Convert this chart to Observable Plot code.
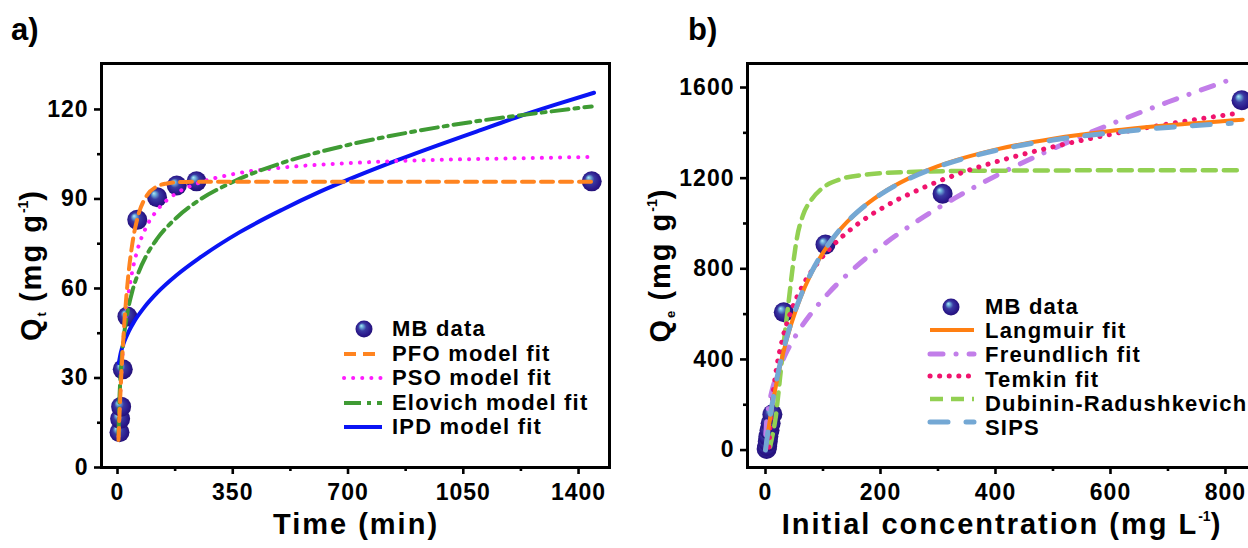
<!DOCTYPE html>
<html><head><meta charset="utf-8">
<script src="https://cdn.jsdelivr.net/npm/d3@7"></script>
<script src="https://cdn.jsdelivr.net/npm/@observablehq/plot@0.6"></script>
<style>
html,body{margin:0;padding:0;background:#fff;}
body{width:1248px;height:548px;overflow:hidden;position:relative;font-family:"Liberation Sans",Arial,sans-serif;font-weight:bold;color:#000;}
.box{position:absolute;top:0;height:548px;}
.panel{position:absolute;font-size:31px;line-height:31px;}
.xt{position:absolute;font-size:29px;line-height:29px;letter-spacing:2px;white-space:nowrap;transform:translateX(-50%);}
.yt{position:absolute;font-size:29px;line-height:29px;letter-spacing:2px;white-space:nowrap;transform:translate(-50%,-50%) rotate(-90deg);}
.xt sub,.yt sub{font-size:13px;position:relative;top:5px;vertical-align:baseline;letter-spacing:0;line-height:0;}
.xt sup,.yt sup{font-size:14px;position:relative;top:-13px;vertical-align:baseline;letter-spacing:0;line-height:0;}
.lt{position:absolute;font-size:22px;line-height:22px;letter-spacing:1.2px;white-space:nowrap;}
.ls{position:absolute;left:0;top:0;overflow:visible;}
</style></head><body>
<svg width="0" height="0" style="position:absolute">
  <defs>
    <radialGradient id="sphere" cx="0.5" cy="0.5" r="0.55" fx="0.33" fy="0.3">
      <stop offset="0" stop-color="#b5e6f7"/>
      <stop offset="0.16" stop-color="#6fb2dc"/>
      <stop offset="0.42" stop-color="#3a3aa2"/>
      <stop offset="0.78" stop-color="#2a188a"/>
      <stop offset="1" stop-color="#210f70"/>
    </radialGradient>
  </defs>
</svg>
<div id="pa" class="box" style="left:0;width:620px"></div>
<div id="pb" class="box" style="left:620px;width:640px"></div>
<div class="panel" style="left:11px;top:14px">a)</div>
<div class="panel" style="left:688px;top:14px">b)</div>
<div class="xt" style="left:356px;top:510px">Time (min)</div>
<div class="xt" style="left:1002px;top:510px">Initial concentration (mg L<sup>-1</sup>)</div>
<div class="yt" style="left:31px;top:265px">Q<sub>t</sub> (mg g<sup>-1</sup>)</div>
<div class="yt" style="left:660px;top:265px">Q<sub>e</sub> (mg g<sup>-1</sup>)</div>
<svg id="legsvg" class="ls" width="1248" height="548"></svg>
<script>
// ---------- Panel a: kinetics ----------
const timeMB = [6, 8, 11, 16, 30, 60, 120, 180, 240, 1440];
const qtMB   = [11.8, 16.3, 20.4, 32.9, 50.6, 83.0, 90.6, 94.5, 95.9, 95.9];

const pfoT = [3, 5, 8, 10, 15, 20, 30, 45, 60, 90, 120, 150, 180, 240, 400, 700, 1000, 1440];
const pfoQ = [9.2, 15.0, 22.8, 27.6, 38.2, 47.2, 61.2, 75.0, 83.3, 91.3, 94.2, 95.2, 95.6, 95.8, 95.8, 95.8, 95.8, 95.8];

const psoT = [3, 5, 8, 10, 15, 20, 30, 45, 60, 90, 120, 180, 240, 350, 500, 700, 900, 1100, 1300, 1440];
const psoQ = [10.4, 16.3, 23.9, 28.3, 37.4, 44.6, 55.3, 65.8, 72.7, 81.2, 86.2, 92.0, 95.1, 98.3, 100.5, 102.0, 102.9, 103.4, 103.8, 104.1];

const eloT = [3, 5, 10, 15, 20, 30, 45, 60, 90, 120, 180, 240, 350, 500, 700, 900, 1100, 1300, 1440];
const eloQ = [10.7, 19.8, 32.2, 39.5, 44.6, 51.8, 59.1, 64.2, 71.5, 76.6, 83.8, 89.0, 95.7, 102.1, 108.1, 112.6, 116.2, 119.1, 121.0];

const ipdT = [4, 10, 20, 35, 50, 80, 120, 180, 250, 370, 500, 610, 730, 850, 970, 1090, 1210, 1330, 1447];
const ipdQ = [35, 38.5, 42, 45.8, 48.8, 53.5, 58.5, 64.5, 70.3, 78.8, 86.4, 92.2, 97.8, 103.0, 107.9, 112.6, 117.3, 121.6, 125.6];

const xTicksA = [0, 350, 700, 1050, 1400];
const xMinorA = [175, 525, 875, 1225];
const yTicksA = [0, 30, 60, 90, 120];
const yMinorA = [15, 45, 75, 105];

// ---------- Panel b: isotherms ----------
const concMB = [2, 3, 4, 5, 7, 9, 12, 31.8, 104.3, 308, 828];
const qeMB   = [5, 18, 38, 60, 88, 118, 158, 608, 907, 1131, 1544];

const langC = [0, 5, 10, 20, 30, 45, 60, 80, 105, 130, 160, 200, 250, 300, 400, 500, 600, 700, 830];
const langQ = [0, 90, 170, 308, 421, 558, 667, 782, 890, 974, 1051, 1129, 1200, 1253, 1326, 1374, 1408, 1433, 1458];

const freuC = [0.5, 2, 5, 10, 20, 35, 55, 80, 110, 150, 200, 260, 330, 410, 500, 600, 700, 810];
const freuQ = [68, 124, 184, 248, 334, 424, 515, 605, 694, 793, 897, 1004, 1113, 1222, 1330, 1438, 1536, 1636];

const temC = [6, 8, 10, 14, 20, 30, 45, 65, 90, 120, 160, 210, 270, 340, 420, 500, 600, 700, 820];
const temQ = [13, 99, 166, 267, 373, 495, 616, 727, 824, 910, 997, 1078, 1153, 1223, 1286, 1338, 1393, 1439, 1486];

const drC = [8, 11, 14, 18, 22, 27, 33, 40, 47, 55, 65, 80, 100, 130, 180, 250, 350, 500, 650, 830];
const drQ = [15, 50, 88, 150, 240, 360, 500, 650, 800, 940, 1035, 1105, 1158, 1195, 1217, 1227, 1232, 1234, 1235, 1235];

const sipsC = [0, 5, 10, 20, 30, 45, 60, 80, 105, 130, 160, 200, 250, 300, 400, 500, 600, 700, 810];
const sipsQ = [0, 95, 178, 318, 430, 565, 672, 785, 892, 975, 1051, 1128, 1198, 1250, 1322, 1368, 1400, 1424, 1442];

const xTicksB = [0, 200, 400, 600, 800];
const xMinorB = [100, 300, 500, 700];
const yTicksB = [0, 400, 800, 1200, 1600];
const yMinorB = [200, 600, 1000, 1400];

// ---------- styles ----------
const sA = {
  "MB data": {dot: true},
  "PFO model fit": {stroke: "#ff8420", strokeWidth: 4, strokeDasharray: "12,7"},
  "PSO model fit": {stroke: "#ff1cff", strokeWidth: 4, strokeDasharray: "0.1,9", strokeLinecap: "round"},
  "Elovich model fit": {stroke: "#3f9b34", strokeWidth: 4, strokeDasharray: "17,6,4,6"},
  "IPD model fit": {stroke: "#0a14f4", strokeWidth: 4}
};
const sB = {
  "MB data": {dot: true},
  "Langmuir fit": {stroke: "#ff7f12", strokeWidth: 4},
  "Freundlich fit": {stroke: "#c27ee9", strokeWidth: 5, strokeDasharray: "13,13,0.1,13", strokeLinecap: "round"},
  "Temkin fit": {stroke: "#f0136d", strokeWidth: 5, strokeDasharray: "0.1,9.5", strokeLinecap: "round"},
  "Dubinin-Radushkevich": {stroke: "#92d052", strokeWidth: 4.5, strokeDasharray: "13,8"},
  "SIPS": {stroke: "#74a8d4", strokeWidth: 5, strokeDasharray: "18,18", strokeLinecap: "round"}
};

const zipRows = (xs, ys) => xs.map((x, i) => ({x, y: ys[i]}));
const baseStyle = {fontFamily: "'Liberation Sans', Arial, sans-serif", fontSize: "23px", fontWeight: "bold", letterSpacing: "1px", color: "#000", background: "none", maxWidth: "none", overflow: "visible"};
const ln = (xs, ys, st) => Plot.line(zipRows(xs, ys), {x: "x", y: "y", curve: "monotone-x", ...st});

function axes(xt, xm, yt, ym) {
  return [
    Plot.axisX({ticks: xt, tickSize: 7, tickPadding: 9, strokeWidth: 2.6, label: null, tickFormat: d => String(d)}),
    Plot.axisX({ticks: xm, tickSize: 4, strokeWidth: 2.6, label: null, tickFormat: () => ""}),
    Plot.axisY({ticks: yt, tickSize: 7, tickPadding: 6, strokeWidth: 2.6, label: null, tickFormat: d => String(d)}),
    Plot.axisY({ticks: ym, tickSize: 4, strokeWidth: 2.6, label: null, tickFormat: () => ""}),
    Plot.frame({stroke: "#000", strokeWidth: 3})
  ];
}

const plotA = Plot.plot({
  width: 620, height: 548,
  marginLeft: 101, marginRight: 11, marginTop: 63, marginBottom: 81,
  x: {domain: [-48.6, 1494]},
  y: {domain: [0, 135.4]},
  style: baseStyle,
  marks: [
    Plot.dot(zipRows(timeMB, qtMB), {x: "x", y: "y", r: 10, fill: "url(#sphere)"}),
    ln(ipdT, ipdQ, sA["IPD model fit"]),
    ln(psoT, psoQ, sA["PSO model fit"]),
    ln(eloT, eloQ, sA["Elovich model fit"]),
    ln(pfoT, pfoQ, sA["PFO model fit"]),
    ...axes(xTicksA, xMinorA, yTicksA, yMinorA)
  ]
});
document.getElementById("pa").appendChild(plotA);

const plotB = Plot.plot({
  width: 640, height: 548,
  marginLeft: 127, marginRight: 8, marginTop: 63, marginBottom: 81,
  x: {domain: [-31.3, 847]},
  y: {domain: [-76.9, 1706]},
  style: baseStyle,
  marks: [
    Plot.dot(zipRows(concMB, qeMB), {x: "x", y: "y", r: 10, fill: "url(#sphere)"}),
    ln(freuC, freuQ, sB["Freundlich fit"]),
    ln(drC, drQ, sB["Dubinin-Radushkevich"]),
    ln(temC, temQ, sB["Temkin fit"]),
    ln(langC, langQ, sB["Langmuir fit"]),
    ln(sipsC, sipsQ, sB["SIPS"]),
    ...axes(xTicksB, xMinorB, yTicksB, yMinorB)
  ]
});
document.getElementById("pb").appendChild(plotB);

// ---------- legends (HTML/SVG overlay) ----------
const legendA = {labels: Object.keys(sA), styles: sA, textX: 392, textY: [329, 354, 378, 403, 427], symY: [329, 354, 378, 403, 427], x0: 344, x1: 382, cx: 364};
const legendB = {labels: Object.keys(sB), styles: sB, textX: 985, textY: [307, 331, 355, 380, 404, 428], symY: [307, 330, 354, 376, 399, 422], x0: 930, x1: 974, cx: 951};

const leg = d3.select("#legsvg");
for (const L of [legendA, legendB]) {
  L.labels.forEach((lab, i) => {
    const st = L.styles[lab];
    if (st.dot) {
      leg.append("circle").attr("cx", L.cx).attr("cy", L.symY[i]).attr("r", 8.5).attr("fill", "url(#sphere)");
    } else {
      leg.append("line").attr("x1", L.x0).attr("x2", L.x1).attr("y1", L.symY[i]).attr("y2", L.symY[i])
        .attr("stroke", st.stroke).attr("stroke-width", st.strokeWidth)
        .attr("stroke-dasharray", st.strokeDasharray || null)
        .attr("stroke-linecap", st.strokeLinecap || "butt");
    }
    const d = document.createElement("div");
    d.className = "lt";
    d.textContent = lab;
    d.style.left = L.textX + "px";
    d.style.top = (L.textY[i] - 10.7) + "px";
    document.body.appendChild(d);
  });
}
</script>
</body></html>
